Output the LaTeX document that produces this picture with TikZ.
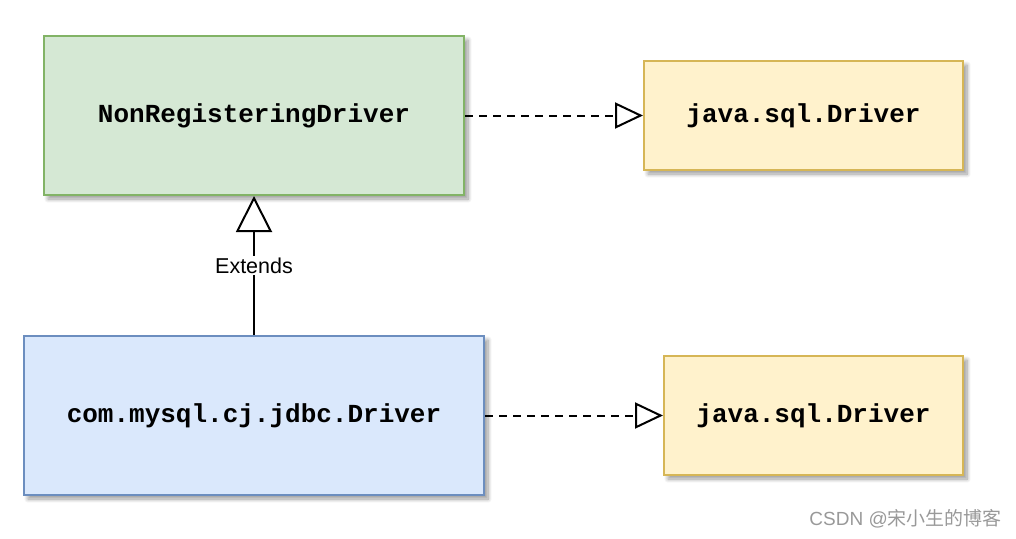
\documentclass[tikz,border=0pt]{standalone}
\usepackage{fontspec}
\setmainfont{Liberation Sans}
\setmonofont{Liberation Mono}
\newfontfamily\cjk{Noto Sans CJK SC}
\usetikzlibrary{arrows.meta,shadows.blur}
\definecolor{greenfill}{HTML}{D5E8D4}
\definecolor{greenline}{HTML}{82B366}
\definecolor{bluefill}{HTML}{DAE8FC}
\definecolor{blueline}{HTML}{6C8EBF}
\definecolor{yellowfill}{HTML}{FFF2CC}
\definecolor{yellowline}{HTML}{D6B656}
\tikzset{
  box/.style={draw, line width=2pt, inner sep=0pt, anchor=north west,
    font=\ttfamily\bfseries\fontsize{26}{30}\selectfont,
    blur shadow={shadow xshift=4pt, shadow yshift=-4pt, shadow blur radius=4pt, shadow opacity=40, shadow blur steps=8}},
  greenbox/.style={box, fill=greenfill, draw=greenline},
  bluebox/.style={box, fill=bluefill, draw=blueline},
  yellowbox/.style={box, fill=yellowfill, draw=yellowline},
  realize/.style={line width=2pt, dash pattern=on 8pt off 6pt,
    -{Triangle[fill=white, length=28pt, width=26pt, line width=2pt]}},
  extends/.style={line width=2pt,
    -{Triangle[fill=white, length=36pt, width=36pt, line width=2pt]}},
}
\begin{document}
\begin{tikzpicture}[x=1pt,y=-1pt]
\useasboundingbox (0,0) rectangle (1016,538);
\node[greenbox, minimum width=420pt, minimum height=159pt] (nrd) at (43,35) {NonRegisteringDriver};
\node[yellowbox, minimum width=319pt, minimum height=109pt] (jsd1) at (643,60) {java.sql.Driver};
\node[bluebox, minimum width=460pt, minimum height=159pt] (cmd) at (23,335) {com.mysql.cj.jdbc.Driver};
\node[yellowbox, minimum width=299pt, minimum height=119pt] (jsd2) at (663,355) {java.sql.Driver};
\draw[realize] (nrd.east) -- (jsd1.west);
\draw[realize] (cmd.east) -- (jsd2.west);
\draw[extends] (cmd.north -| nrd.south) -- (nrd.south)
  node[pos=0.5, fill=white, inner sep=1.5pt, font=\fontsize{21.5}{24}\selectfont] (ext) {Extends};
\node[text=black!40, font=\fontsize{19}{22}\selectfont, anchor=east, inner sep=0pt] (wm) at (1002,519) {CSDN @{\cjk 宋小生的博客}};
\end{tikzpicture}
\end{document}
